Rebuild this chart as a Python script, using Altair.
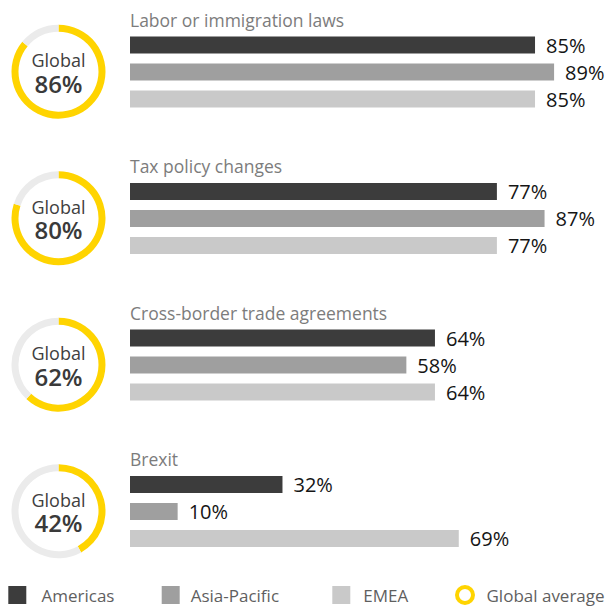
import altair as alt
import pandas as pd

# ---- data ----
topics = ["Labor or immigration laws", "Tax policy changes",
          "Cross-border trade agreements", "Brexit"]
global_avg = [86, 80, 62, 42]
regions = ["Americas", "Asia-Pacific", "EMEA"]
americas = [85, 77, 64, 32]
asia_pacific = [89, 87, 58, 10]
emea = [85, 77, 64, 69]
legend_labels = ["Americas", "Asia-Pacific", "EMEA", "Global average"]

# ---- style / layout ----
REGION_COLORS = {"Americas": "#3c3c3c", "Asia-Pacific": "#9f9f9f", "EMEA": "#c9c9c9"}
YELLOW = "#FFD400"
RING_GRAY = "#EBEBEB"
FONT = "Open Sans"
W = H = 599
PX0 = 122.0          # pixel of 0 %
PX_PER = 4.765       # pixels per %
GROUP_STEP = 146.5
BAR0 = 37.0
BAR_STEP = 27.0
TITLE0 = 18.7
DONUT_X = 50.5

def to_units(px):
    return (px - PX0) / PX_PER

xscale = alt.Scale(domain=[to_units(0), to_units(W)], nice=False, zero=False, padding=0)
yscale = alt.Scale(domain=[0, H], reverse=True, nice=False, zero=False, padding=0)

series = {"Americas": americas, "Asia-Pacific": asia_pacific, "EMEA": emea}
bar_rows, title_rows, arc_rows, center_rows = [], [], [], []
for g, t in enumerate(topics):
    base = g * GROUP_STEP
    for r, reg in enumerate(regions):
        v = series[reg][g]
        bar_rows.append({"topic": t, "region": reg, "v": v,
                         "y": BAR0 + base + r * BAR_STEP,
                         "label": f"{v}%", "color": REGION_COLORS[reg]})
    title_rows.append({"topic": t, "y": TITLE0 + base})
    cy = BAR0 + base + BAR_STEP - 0.3
    arc_rows.append({"topic": t, "s": 0, "e": global_avg[g], "y": cy, "color": YELLOW})
    arc_rows.append({"topic": t, "s": global_avg[g], "e": 100, "y": cy, "color": RING_GRAY})
    center_rows.append({"topic": t, "y1": cy - 4.5, "y2": cy + 21,
                        "pct": f"{global_avg[g]}%"})

bars_df = pd.DataFrame(bar_rows)
titles_df = pd.DataFrame(title_rows)
arcs_df = pd.DataFrame(arc_rows)
centers_df = pd.DataFrame(center_rows)

X = lambda f: alt.X(f, type="quantitative", scale=xscale, axis=None, stack=None)
Y = lambda f: alt.Y(f, type="quantitative", scale=yscale, axis=None, stack=None)
YD = lambda d: alt.Y(datum=d, type="quantitative", scale=yscale, axis=None)

bars = alt.Chart(bars_df).mark_bar(orient="horizontal", size=17).encode(
    x=X("v"), x2=alt.datum(0), y=Y("y"),
    color=alt.Color("color:N", scale=None))

bar_labels = alt.Chart(bars_df).mark_text(
    align="left", baseline="middle", dx=11, dy=1.5, fontSize=20,
    font=FONT, color="#151515").encode(x=X("v"), y=Y("y"), text="label:N")

titles = alt.Chart(titles_df).mark_text(
    align="left", baseline="alphabetic", fontSize=17.5, font=FONT,
    color="#7c7c7c").encode(x=alt.X(datum=0, type="quantitative", scale=xscale, axis=None),
                            y=Y("y"), text="topic:N")

arcs = alt.Chart(arcs_df).mark_arc(radius=47, radius2=40).encode(
    x=alt.value(DONUT_X), y=Y("y"),
    theta=alt.Theta("s:Q", stack=None,
                    scale=alt.Scale(domain=[0, 100], range=[0, 6.283185307])),
    theta2="e:Q",
    color=alt.Color("color:N", scale=None))

glob_txt = alt.Chart(centers_df).mark_text(
    align="center", baseline="alphabetic", fontSize=18, font=FONT,
    color="#404040", text="Global").encode(x=alt.value(DONUT_X), y=Y("y1"))

glob_pct = alt.Chart(centers_df).mark_text(
    align="center", baseline="alphabetic", fontSize=24, fontWeight=600,
    font=FONT, color="#3a3a3a").encode(x=alt.value(DONUT_X), y=Y("y2"), text="pct:N")

# legend (manual, laid out along the bottom)
LEG_SQ_X = [0.3, 153.7, 324.3]
LEG_TXT_X = [33.5, 182.7, 355.3, 478.5]
LEG_RING_X = 457
LEG_Y = 587
leg_sq = pd.DataFrame({"label": legend_labels[:3],
                       "x1": [to_units(p) for p in LEG_SQ_X],
                       "x2": [to_units(p + 18) for p in LEG_SQ_X],
                       "color": [REGION_COLORS[r] for r in legend_labels[:3]]})
leg_txt = pd.DataFrame({"label": legend_labels,
                        "x": [to_units(p) for p in LEG_TXT_X]})
leg_ring = pd.DataFrame({"label": [legend_labels[3]], "x": [to_units(LEG_RING_X)]})

legend_sq = alt.Chart(leg_sq).mark_rect().encode(
    x=X("x1"), x2="x2", y=YD(LEG_Y - 9), y2=alt.datum(LEG_Y + 9),
    color=alt.Color("color:N", scale=None))
legend_txt = alt.Chart(leg_txt).mark_text(
    align="left", baseline="alphabetic", fontSize=17, font=FONT,
    color="#5f5f5f").encode(x=X("x"), y=YD(LEG_Y + 6.5), text="label:N")
legend_ring = alt.Chart(leg_ring).mark_point(
    shape="circle", filled=False, size=256, strokeWidth=4, color=YELLOW, opacity=1).encode(
    x=X("x"), y=YD(LEG_Y))

chart = alt.layer(bars, bar_labels, titles, arcs, glob_txt, glob_pct,
                  legend_sq, legend_txt, legend_ring).properties(
    width=W, height=H, padding=0, autosize=alt.AutoSizeParams(type="none"),
    background="white").configure_view(stroke=None)

chart.save("out.html", embed_options={"renderer": "svg", "actions": False})
